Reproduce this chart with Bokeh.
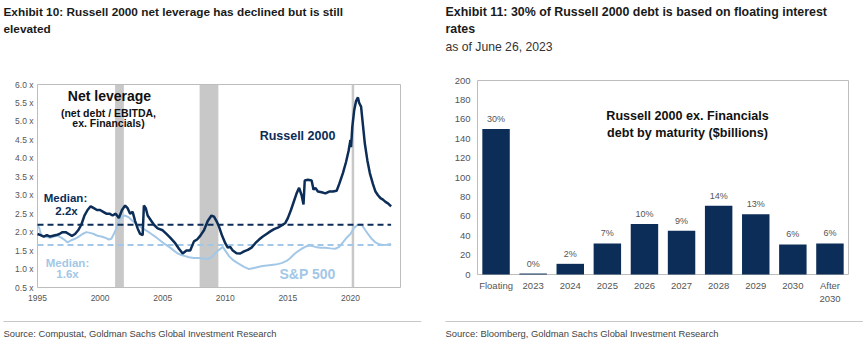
from bokeh.plotting import figure
from bokeh.models import Range1d, Label, ColumnDataSource
from bokeh.layouts import row
from bokeh.core.properties import value
from bokeh.embed import file_html
from bokeh.resources import INLINE

# ---------------- data: left chart ----------------
r2k_years = [1995.0, 1995.25, 1995.5, 1995.75, 1996.0, 1996.25, 1996.5, 1996.75, 1997.0, 1997.25,
             1997.5, 1997.75, 1998.0, 1998.25, 1998.5, 1998.75, 1999.0, 1999.25, 1999.5, 1999.75,
             2000.0, 2000.25, 2000.5, 2000.75, 2001.0, 2001.25, 2001.5, 2001.75, 2002.0, 2002.2,
             2002.4, 2002.6, 2002.8, 2003.0, 2003.2, 2003.4, 2003.5, 2003.65, 2003.8, 2004.0,
             2004.3, 2004.6, 2005.0, 2005.3, 2005.6, 2006.0, 2006.3, 2006.6, 2006.9, 2007.2,
             2007.5, 2007.75, 2008.0, 2008.3, 2008.6, 2008.9, 2009.1, 2009.3, 2009.5, 2009.75,
             2010.0, 2010.2, 2010.4, 2010.6, 2010.9, 2011.2, 2011.5, 2011.8, 2012.1, 2012.4,
             2012.7, 2013.0, 2013.3, 2013.6, 2013.9, 2014.2, 2014.5, 2014.8, 2015.0, 2015.25,
             2015.5, 2015.7, 2015.9, 2016.1, 2016.25, 2016.35, 2016.6, 2016.9, 2017.05, 2017.2,
             2017.4, 2017.7, 2018.0, 2018.3, 2018.6, 2018.9, 2019.1, 2019.4, 2019.65, 2019.85,
             2020.0, 2020.05, 2020.15, 2020.3, 2020.45, 2020.6, 2020.7, 2020.85, 2021.0, 2021.15,
             2021.35, 2021.55, 2021.8, 2022.0, 2022.2, 2022.4, 2022.6, 2022.8, 2023.0, 2023.25]
r2k_vals = [1.95, 1.92, 1.88, 1.92, 1.88, 1.90, 1.92, 1.95, 2.00, 2.00,
            1.95, 1.90, 1.95, 2.05, 2.20, 2.45, 2.60, 2.70, 2.65, 2.60,
            2.60, 2.55, 2.50, 2.50, 2.45, 2.50, 2.38, 2.60, 2.72, 2.65,
            2.50, 2.55, 2.30, 2.10, 1.95, 1.92, 2.72, 2.65, 2.45, 2.35,
            2.20, 2.10, 2.05, 1.95, 1.85, 1.70, 1.55, 1.42, 1.50, 1.50,
            1.75, 1.80, 1.90, 2.05, 2.30, 2.45, 2.42, 2.30, 2.15, 1.90,
            1.70, 1.58, 1.60, 1.50, 1.43, 1.42, 1.48, 1.52, 1.58, 1.70,
            1.80, 1.88, 1.95, 2.02, 2.08, 2.12, 2.18, 2.25, 2.38, 2.60,
            2.85, 3.05, 3.20, 3.00, 2.75, 3.40, 3.42, 3.40, 3.15, 3.20,
            3.10, 3.08, 3.05, 3.10, 3.10, 3.12, 3.30, 3.60, 3.90, 4.20,
            4.50, 4.30, 4.85, 5.30, 5.55, 5.65, 5.50, 5.40, 4.90, 4.40,
            3.95, 3.60, 3.30, 3.10, 3.00, 2.92, 2.88, 2.82, 2.78, 2.70]

spx_years = [1995.0, 1995.15, 1995.3, 1995.6, 1996.0, 1996.3, 1996.6, 1996.9, 1997.2, 1997.4,
             1997.7, 1998.0, 1998.3, 1998.6, 1998.9, 1999.2, 1999.5, 1999.8, 2000.1, 2000.4,
             2000.7, 2000.9, 2001.1, 2001.3, 2001.5, 2001.75, 2002.0, 2002.3, 2002.6, 2002.9,
             2003.2, 2003.5, 2003.8, 2004.1, 2004.4, 2004.7, 2005.0, 2005.3, 2005.6, 2005.9,
             2006.2, 2006.5, 2006.8, 2007.1, 2007.5, 2007.9, 2008.3, 2008.7, 2009.0, 2009.25,
             2009.5, 2009.8, 2010.0, 2010.3, 2010.6, 2010.9, 2011.2, 2011.5, 2011.9, 2012.3,
             2012.7, 2013.0, 2013.5, 2014.0, 2014.5, 2014.9, 2015.2, 2015.5, 2015.8, 2016.1,
             2016.5, 2016.8, 2017.2, 2017.6, 2018.0, 2018.4, 2018.8, 2019.1, 2019.4, 2019.7,
             2020.0, 2020.3, 2020.6, 2020.9, 2021.1, 2021.4, 2021.7, 2022.0, 2022.3, 2022.6,
             2022.9, 2023.25]
spx_vals = [2.20, 2.10, 1.90, 1.88, 1.85, 1.88, 1.90, 1.85, 1.78, 1.72,
            1.78, 1.82, 1.88, 1.95, 2.00, 1.98, 1.95, 1.90, 1.88, 1.85,
            1.80, 1.82, 1.95, 2.10, 2.30, 2.42, 2.45, 2.40, 2.30, 2.22,
            2.15, 2.08, 2.02, 1.95, 1.88, 1.80, 1.72, 1.65, 1.58, 1.50,
            1.42, 1.38, 1.35, 1.32, 1.30, 1.30, 1.28, 1.28, 1.35, 1.45,
            1.52, 1.60, 1.50, 1.35, 1.25, 1.18, 1.12, 1.06, 1.00, 1.03,
            1.06, 1.08, 1.10, 1.12, 1.16, 1.22, 1.30, 1.40, 1.48, 1.55,
            1.62, 1.64, 1.60, 1.58, 1.58, 1.56, 1.55, 1.60, 1.72, 1.85,
            1.95, 2.12, 2.20, 2.20, 2.10, 1.95, 1.82, 1.72, 1.67, 1.65,
            1.66, 1.68]

r2k_median = 2.2
spx_median = 1.65
recession_start = [2001.2, 2007.95, 2020.1]
recession_end = [2001.9, 2009.45, 2020.3]

left_y_ticks = [0.5, 1.0, 1.5, 2.0, 2.5, 3.0, 3.5, 4.0, 4.5, 5.0, 5.5, 6.0]
left_y_labels = ["0.5 x", "1.0 x", "1.5 x", "2.0 x", "2.5 x", "3.0 x", "3.5 x", "4.0 x",
                 "4.5 x", "5.0 x", "5.5 x", "6.0 x"]
left_x_ticks = [1995, 2000, 2005, 2010, 2015, 2020]
left_x_labels = ["1995", "2000", "2005", "2010", "2015", "2020"]

# ---------------- data: right chart ----------------
maturity_cats = ["Floating", "2023", "2024", "2025", "2026", "2027", "2028", "2029", "2030", "After 2030"]
debt_vals = [150, 1, 11, 32, 52, 45, 71, 62, 31, 32]
debt_pct = ["30%", "0%", "2%", "7%", "10%", "9%", "14%", "13%", "6%", "6%"]
right_y_ticks = [0, 20, 40, 60, 80, 100, 120, 140, 160, 180, 200]
right_y_labels = ["0", "20", "40", "60", "80", "100", "120", "140", "160", "180", "200"]

# ---------------- styles / layout geometry (page pixels) ----------------
NAVY = "#0c2d57"
LIGHT = "#a3c7e6"
GRAY_TXT = "#555555"
FRAME = "#bdbdbd"
RULE = "#c8c8c8"
SANS = "Liberation Sans"
FIG_H = 342
LW, RW = 431, 432

# left chart: x 1995..2024 over page px 37..400, y 0.5..6.0 over page px 287..84
L_X0, L_X1, L_PX0, L_PX1 = 1995.0, 2024.0, 37, 400
L_Y0, L_Y1, L_PY0, L_PY1 = 0.5, 6.0, 287, 84
# right chart: 10 category slots over page px 477..848, y 0..200 over page px 274..80
R_PX0, R_PX1 = 477, 848
R_Y0, R_Y1, R_PY0, R_PY1 = 0.0, 200.0, 274, 80


def lx(px):
    return L_X0 + (px - L_PX0) * (L_X1 - L_X0) / (L_PX1 - L_PX0)


def ly(py):
    return L_Y0 + (L_PY0 - py) * (L_Y1 - L_Y0) / (L_PY0 - L_PY1)


def rx(px):
    return (px - R_PX0) * len(maturity_cats) / (R_PX1 - R_PX0)


def ry(py):
    return R_Y0 + (R_PY0 - py) * (R_Y1 - R_Y0) / (R_PY0 - R_PY1)


def add_label(p, x, y, txt, size, color, bold=True, align="center"):
    p.add_layout(Label(x=x, y=y, text=txt, text_font=SANS, text_font_size=size,
                       text_font_style="bold" if bold else "normal", text_color=color,
                       text_align=align, text_baseline="middle"))


def base_fig(w, xr, yr):
    f = figure(width=w, height=FIG_H, x_range=xr, y_range=yr,
               x_axis_location=None, y_axis_location=None,
               output_backend="svg", toolbar_location=None, min_border=0)
    f.grid.visible = False
    f.outline_line_color = None
    return f


# ================= left chart =================
pl = base_fig(LW, Range1d(lx(0), lx(LW)), Range1d(ly(FIG_H), ly(0)))

pl.quad(left=recession_start, right=recession_end, bottom=L_Y0, top=L_Y1,
        fill_color="#c8c8c8", line_color=None)
pl.quad(left=[L_X0], right=[L_X1], bottom=[L_Y0], top=[L_Y1],
        fill_color=None, line_color=FRAME, line_width=1)

pl.line(spx_years, spx_vals, line_color=LIGHT, line_width=2)
pl.segment(x0=spx_years[0], x1=spx_years[-1], y0=spx_median, y1=spx_median,
           line_color=LIGHT, line_width=2, line_dash="6 4")
pl.line(r2k_years, r2k_vals, line_color=NAVY, line_width=2.5)
pl.segment(x0=r2k_years[0], x1=r2k_years[-1], y0=r2k_median, y1=r2k_median,
           line_color=NAVY, line_width=2, line_dash="6 4")

# tick labels
pl.text(x=[lx(33)] * len(left_y_ticks), y=left_y_ticks, text=left_y_labels,
        text_font=value(SANS), text_font_size="8.5px", text_color=GRAY_TXT,
        text_align="right", text_baseline="middle")
pl.text(x=left_x_ticks, y=[ly(297)] * len(left_x_ticks), text=left_x_labels,
        text_font=value(SANS), text_font_size="8.5px", text_color=GRAY_TXT,
        text_align="center", text_baseline="middle")

# titles and source
add_label(pl, lx(3), ly(11), "Exhibit 10: Russell 2000 net leverage has declined but is still",
          "11.8px", "#1a1a1a", align="left")
add_label(pl, lx(3), ly(28), "elevated", "11.8px", "#1a1a1a", align="left")
pl.segment(x0=[lx(3)], x1=[lx(421)], y0=[ly(321)], y1=[ly(321)], line_color=RULE, line_width=1)
add_label(pl, lx(3), ly(333), "Source: Compustat, Goldman Sachs Global Investment Research",
          "9.4px", "#444444", bold=False, align="left")

# in-chart annotations
add_label(pl, lx(109), ly(95), "Net leverage", "14px", "#111111")
add_label(pl, lx(108), ly(112), "(net debt / EBITDA,", "10.5px", "#111111")
add_label(pl, lx(108), ly(122), "ex. Financials)", "10.5px", "#111111")
add_label(pl, lx(297), ly(135), "Russell 2000", "12.5px", NAVY)
add_label(pl, lx(65), ly(197), "Median:", "11.5px", NAVY)
add_label(pl, lx(66), ly(210), "2.2x", "11.5px", NAVY)
add_label(pl, lx(67), ly(262), "Median:", "11.5px", LIGHT)
add_label(pl, lx(67), ly(273), "1.6x", "11.5px", LIGHT)
add_label(pl, lx(307), ly(273), "S&P 500", "14px", LIGHT)

# ================= right chart =================
slot = [i + 0.5 for i in range(len(maturity_cats))]
src = ColumnDataSource(dict(x=slot, cat=maturity_cats, val=debt_vals, pct=debt_pct))
pr = base_fig(RW, Range1d(rx(LW), rx(LW + RW)), Range1d(ry(FIG_H), ry(0)))
pr.quad(left=[0], right=[len(maturity_cats)], bottom=[R_Y0], top=[R_Y1],
        fill_color=None, line_color=FRAME, line_width=1)
pr.vbar(x="x", top="val", width=0.74, source=src, fill_color=NAVY, line_color=None)
pr.text(x="x", y="val", text="pct", source=src, text_font=value(SANS), text_font_size="9px",
        text_color=GRAY_TXT, text_align="center", text_baseline="bottom", y_offset=-5)

# y tick labels
pr.text(x=[rx(470)] * len(right_y_ticks), y=right_y_ticks, text=right_y_labels,
        text_font=value(SANS), text_font_size="9.5px", text_color=GRAY_TXT,
        text_align="right", text_baseline="middle")
# category labels (second word on a second line)
for i, cat in enumerate(maturity_cats):
    for j, part in enumerate(cat.split(" ")):
        add_label(pr, slot[i], ry(285 + 13 * j), part, "9.5px", GRAY_TXT, bold=False)

add_label(pr, rx(687), ry(115), "Russell 2000 ex. Financials", "12.6px", "#111111")
add_label(pr, rx(687), ry(132), "debt by maturity ($billions)", "12.6px", "#111111")

# titles and source
add_label(pr, rx(445), ry(11), "Exhibit 11: 30% of Russell 2000 debt is based on floating interest",
          "12.4px", "#1a1a1a", align="left")
add_label(pr, rx(445), ry(28), "rates", "12.4px", "#1a1a1a", align="left")
add_label(pr, rx(445), ry(46), "as of June 26, 2023", "12.2px", "#333333", bold=False, align="left")
pr.segment(x0=[rx(445)], x1=[rx(863)], y0=[ry(321)], y1=[ry(321)], line_color=RULE, line_width=1)
add_label(pr, rx(445), ry(333), "Source: Bloomberg, Goldman Sachs Global Investment Research",
          "9.4px", "#444444", bold=False, align="left")

layout = row(pl, pr, spacing=0)
open("out.html", "w").write(file_html(layout, INLINE))
